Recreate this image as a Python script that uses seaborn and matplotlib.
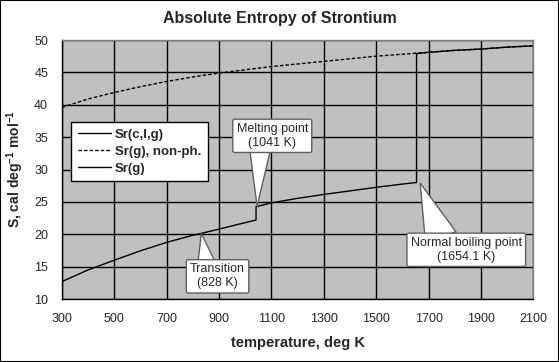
"""
Absolute entropy of strontium vs temperature
"""

import matplotlib
matplotlib.use("Agg")
import matplotlib.pyplot as plt
import numpy as np
import pandas as pd
import seaborn as sns
from matplotlib.patches import Rectangle

# Sr(c,l,g): condensed phases, with jumps at melting and boiling
t_cond = [300, 400, 500, 600, 700, 800, 828, 900, 1000, 1041, 1041,
          1100, 1200, 1300, 1400, 1500, 1600, 1654.1, 1654.1]
s_cond = [12.7, 14.5, 16.0, 17.45, 18.75, 19.85, 20.1, 20.8, 21.8, 22.2, 24.25,
          24.85, 25.55, 26.15, 26.7, 27.25, 27.75, 28.0, 47.9]

# Sr(g), non-physical extension of the gas over the whole range
t_gas_all = [300, 400, 500, 600, 700, 800, 900, 1000, 1100, 1200,
             1300, 1400, 1500, 1600, 1700, 1800, 1900, 2000, 2100]
s_gas_all = [39.6, 40.9, 41.9, 42.8, 43.6, 44.3, 44.9, 45.4, 45.9, 46.3,
             46.7, 47.1, 47.5, 47.8, 48.1, 48.4, 48.6, 48.9, 49.1]

# Sr(g) above the normal boiling point
t_gas = [1654.1, 1700, 1800, 1900, 2000, 2100]
s_gas = [47.9, 48.1, 48.4, 48.6, 48.9, 49.1]

x_ticks = list(range(300, 2101, 200))
y_ticks = list(range(10, 51, 5))

# text, point, text position, wedge width, wedge start on the box
callouts = [
    ("Melting point\n(1041 K)", (1045, 24.3), (1103, 35.2), 1.7, (0.33, 0.02)),
    ("Transition\n(828 K)", (832, 20.1), (894, 13.5), 1.45, (0.3, 0.98)),
    ("Normal boiling point\n(1654.1 K)", (1668, 27.9), (1844, 17.6), 2.6, (0.27, 0.98)),
]

sns.set_style("white")
plt.rcParams["font.family"] = ["Liberation Sans", "DejaVu Sans"]
plt.rcParams["mathtext.fontset"] = "custom"
plt.rcParams["mathtext.rm"] = "Liberation Sans"
plt.rcParams["mathtext.bf"] = "Liberation Sans:bold"

fig = plt.figure(figsize=(5.59, 3.62), dpi=100)
ax = fig.add_axes([0.111, 0.174, 0.843, 0.7155])
ax.set_facecolor("#C0C0C0")

df_cond = pd.DataFrame({"T": t_cond, "S": s_cond})
df_all = pd.DataFrame({"T": t_gas_all, "S": s_gas_all})
df_gas = pd.DataFrame({"T": t_gas, "S": s_gas})

sns.lineplot(data=df_cond, x="T", y="S", ax=ax, sort=False, estimator=None,
             color="black", lw=1.0, label="Sr(c,l,g)")
sns.lineplot(data=df_all, x="T", y="S", ax=ax, sort=False, estimator=None,
             color="black", lw=1.0, linestyle=(0, (2.5, 1.5)), label="Sr(g), non-ph.")
sns.lineplot(data=df_gas, x="T", y="S", ax=ax, sort=False, estimator=None,
             color="black", lw=1.0, label="Sr(g)")

ax.set_xlim(300, 2100)
ax.set_ylim(10, 50)
ax.set_xticks(x_ticks)
ax.set_yticks(y_ticks)
ax.set_axisbelow(True)
ax.grid(True, color="black", lw=1.0)
ax.tick_params(axis="both", direction="out", length=4, width=1, color="black",
               labelsize=9, pad=6)

for side in ["left", "bottom"]:
    ax.spines[side].set_color("black")
    ax.spines[side].set_linewidth(1.0)
for side in ["top", "right"]:
    ax.spines[side].set_color("#808080")
    ax.spines[side].set_linewidth(1.0)

ax.set_xlabel("temperature, deg K", fontsize=10.5, fontweight="bold", labelpad=8)
ax.set_ylabel(r"S, cal deg$^{\mathbf{-1}}$ mol$^{\mathbf{-1}}$", fontsize=10,
              fontweight="bold", labelpad=6)
fig.text(0.5, 1 - 18 / 362, "Absolute Entropy of Strontium", ha="center", va="center",
         fontsize=11.5, fontweight="bold")

leg = ax.legend(loc="upper left", bbox_to_anchor=(0.019, 0.683), borderaxespad=0,
                frameon=True, fancybox=False, prop={"weight": "bold", "size": 9.5},
                handlelength=2.5, handletextpad=0.3, labelspacing=0.35, borderpad=0.5)
leg.get_frame().set_edgecolor("black")
leg.get_frame().set_linewidth(1.0)
leg.get_frame().set_facecolor("white")
leg.get_frame().set_alpha(1)

for text, tip, pos, width, start in callouts:
    ax.annotate(text, xy=tip, xytext=pos, ha="center", va="center",
                multialignment="center", fontsize=9, zorder=5,
                bbox=dict(boxstyle="round,pad=0.3,rounding_size=0.15", fc="white",
                          ec="#606060", lw=1.0),
                arrowprops=dict(arrowstyle=f"wedge,tail_width={width}", fc="white",
                                ec="#606060", lw=1.0, shrinkA=0, shrinkB=0,
                                patchA=None, relpos=start))

fig.patches.append(Rectangle((0, 0), 1, 1, transform=fig.transFigure, fill=False,
                             ec="black", lw=1.5))

plt.savefig("out.png", dpi=100)
